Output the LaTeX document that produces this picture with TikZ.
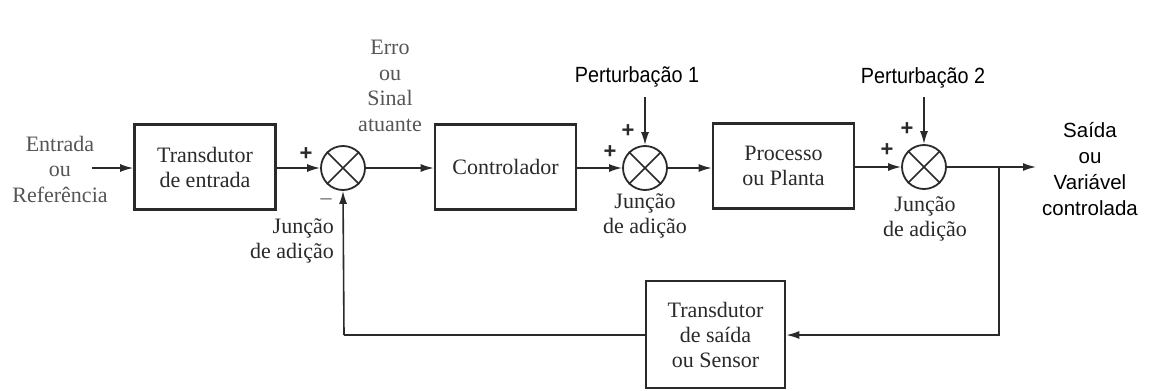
\documentclass[tikz,border=0pt]{standalone}
\usepackage{fontspec}
\setmainfont{Liberation Serif}
\newfontfamily\sansf{Liberation Sans}
\newfontfamily\sansn[FakeStretch=0.9]{Liberation Sans}
\usetikzlibrary{arrows.meta}
\definecolor{ink}{HTML}{2A2A2A}
\definecolor{grayink}{HTML}{555555}
\tikzset{
  blk/.style={draw=ink, line width=2.6pt, minimum width=141pt, minimum height=85pt, inner sep=0pt, align=center, text=ink, font=\fontsize{22}{25}\selectfont},
  sumnode/.style={draw=ink, circle, line width=1.8pt, minimum size=44pt, inner sep=0pt},
  conn/.style={draw=ink, line width=1.6pt, -{Latex[length=13pt,width=8pt]}},
  wire/.style={draw=ink, line width=1.6pt},
  serlbl/.style={align=center, text=ink, font=\fontsize{22}{25}\selectfont, inner sep=0pt},
  graylbl/.style={align=center, text=grayink, font=\fontsize{22}{25.5}\selectfont, inner sep=0pt},
  sanslbl/.style={align=center, text=black, font=\sansf\fontsize{20.5}{26}\selectfont, inner sep=0pt},
  perlbl/.style={text=black, font=\sansn\fontsize{22}{24}\selectfont, inner sep=0pt},
  sign/.style={text=ink, font=\sansf\bfseries\fontsize{22}{22}\selectfont, inner sep=0pt}
}
\begin{document}
\begin{tikzpicture}[x=1pt,y=-1pt]
\useasboundingbox (0,0) rectangle (1149,391);
\fill[white] (0,0) rectangle (1149,391);

% blocks
\node[blk] (tin) at (205,167) {Transdutor\\de entrada};
\node[blk] (ctrl) at (505.5,167) {Controlador};
\node[blk] (proc) at (783.5,166) {Processo\\ou Planta};
\node[blk, minimum width=139pt, minimum height=107pt] (sens) at (715.5,334.5) {Transdutor\\de saída\\ou Sensor};

% summing junctions
\node[sumnode] (s1) at (343,168) {};
\node[sumnode] (s2) at (645,168) {};
\node[sumnode] (s3) at (924,167) {};
\foreach \s in {s1,s2,s3}{
  \draw[ink, line width=1.5pt] (\s.45) -- (\s.225);
  \draw[ink, line width=1.5pt] (\s.135) -- (\s.315);
}

% coordinates
\coordinate (in) at (92,168);
\coordinate (out) at (1036,167);
\coordinate (br) at (999,167);
\coordinate (brd) at (999,335);
\coordinate (fbl) at (344,335);
\coordinate (p1) at (645,97);
\coordinate (p2) at (924,97);

% connectors
\draw[conn] (in) -- (tin.west |- in);
\draw[conn] (tin.east |- s1.west) -- (s1.west);
\draw[conn] (s1.east) -- (ctrl.west |- s1.east);
\draw[conn] (ctrl.east |- s2.west) -- (s2.west);
\draw[conn] (s2.east) -- (proc.west |- s2.east);
\draw[conn] (proc.east |- s3.west) -- (s3.west);
\draw[conn] (s3.east) -- (out);
\draw[conn] (p1) -- (s2.north);
\draw[conn] (p2) -- (s3.north);
\draw[conn] (br) -- (brd) -- (sens.east |- brd);
\draw[wire] (sens.west |- fbl) -- (fbl);
\draw[conn] (fbl) -- (s1.south);

% labels
\node[graylbl] (lin) at (60,169) {Entrada\\ou\\Referência};
\node[graylbl] (lerr) at (390,86) {Erro\\ou\\Sinal\\atuante};
\node[sanslbl] (lout) at (1090,169) {Saída\\ou\\Variável\\controlada};
\node[perlbl] (lp1) at (637,77) {Perturbação 1};
\node[perlbl] (lp2) at (923,78) {Perturbação 2};

\node[serlbl, align=right, anchor=north east] (j1) at (334,218) {Junção\\de adição};
\node[serlbl, anchor=north] (j2) at (645,193) {Junção\\de adição};
\node[serlbl, anchor=north] (j3) at (925,196) {Junção\\de adição};

\node[sign] (pl1) at (306,154) {+};
\node[text=grayink, font=\fontsize{22}{22}\selectfont, inner sep=0pt] (mi1) at (326,202) {–};
\node[sign] (pl2a) at (628,131) {+};
\node[sign] (pl2b) at (610,152) {+};
\node[sign] (pl3a) at (907,129) {+};
\node[sign] (pl3b) at (887,150) {+};
\end{tikzpicture}
\end{document}
